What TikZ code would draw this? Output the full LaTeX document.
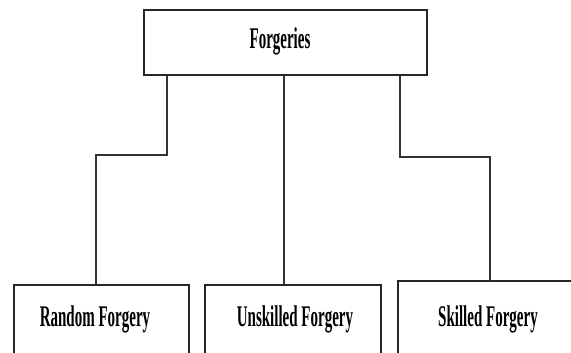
\documentclass[tikz,border=0pt]{standalone}
\usepackage{fontspec}
\setmainfont{Liberation Serif}
\begin{document}
\begin{tikzpicture}[x=1pt,y=1pt,
  box/.style={draw=black!85,line width=1.6pt,fill=white,inner sep=0pt},
  conn/.style={draw=black!80,line width=1.1pt},
  lbl/.style={inner sep=0pt,anchor=base}]
\newcommand{\cond}[1]{\scalebox{0.5}[1]{\fontsize{30}{33}\selectfont\bfseries #1}}
\useasboundingbox (0,0) rectangle (571,353);
\clip (0,0) rectangle (571,353);
% top box
\draw[box] (144,278) rectangle (427,343);
\node[lbl] (top) at (280,304) {\cond{Forgeries}};
% bottom boxes
\draw[box] (14,-20) rectangle (189,68);
\draw[box] (205,-20) rectangle (381,68);
\draw[box] (398,-20) rectangle (600,72);
\node[lbl] (rand) at (95,26) {\cond{Random Forgery}};
\node[lbl] (unsk) at (295,26) {\cond{Unskilled Forgery}};
\node[lbl] (skil) at (488,26) {\cond{Skilled Forgery}};
% connectors
\coordinate (t1) at (167,278);
\coordinate (t2) at (284,278);
\coordinate (t3) at (400,278);
\coordinate (b1) at (96,68);
\coordinate (b2) at (284,68);
\coordinate (b3) at (490,72);
\draw[conn] (t1) -- (167,198) -- (96,198) -- (b1);
\draw[conn] (t2) -- (b2);
\draw[conn] (t3) -- (400,196) -- (490,196) -- (b3);
\end{tikzpicture}
\end{document}
